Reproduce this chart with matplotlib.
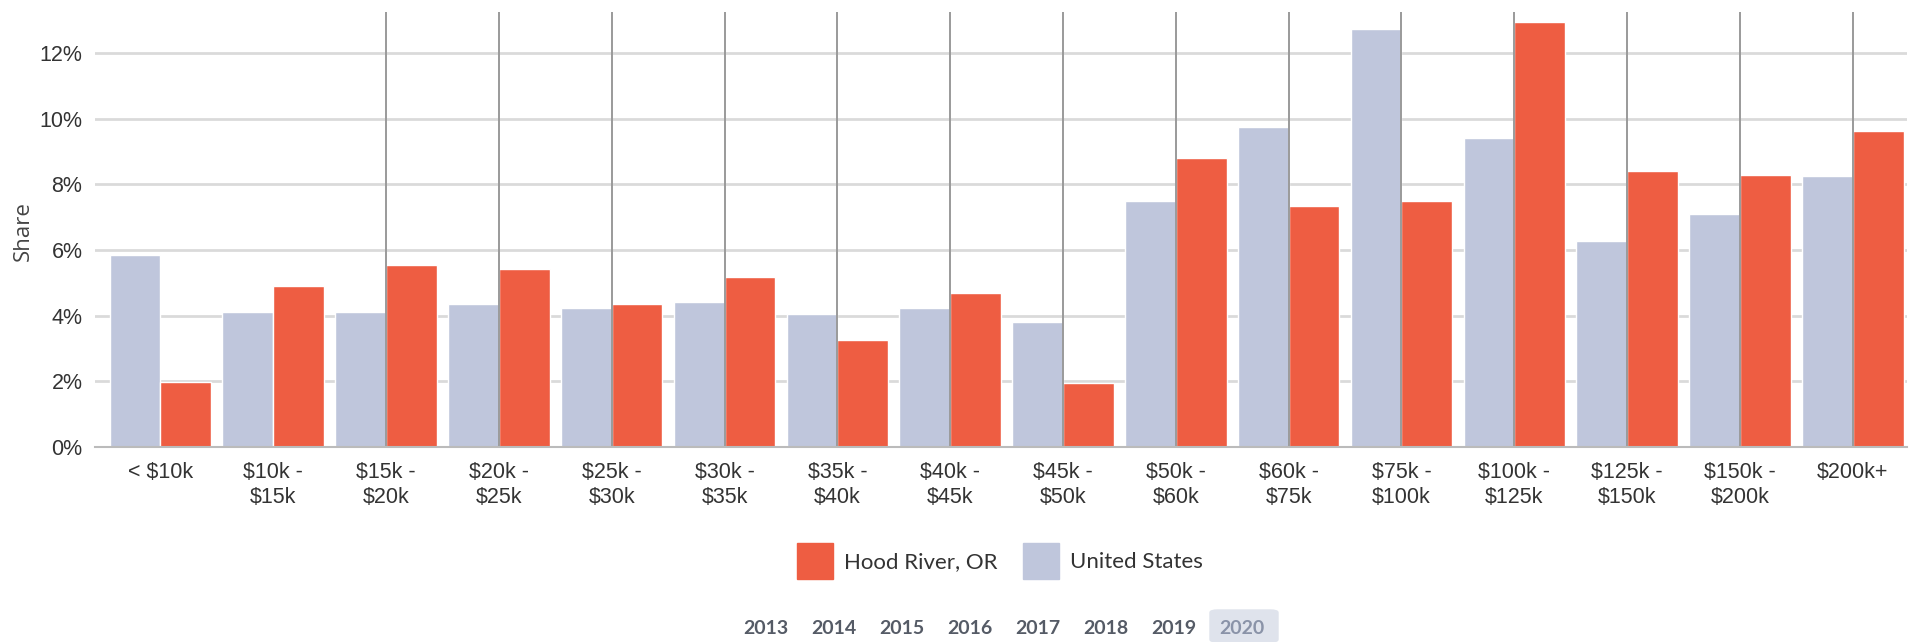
import numpy as np
import matplotlib
matplotlib.use("Agg")
from matplotlib import pyplot as plt
from matplotlib.patches import Rectangle, FancyBboxPatch

categories = ['< $10k', '$10k -\n$15k', '$15k -\n$20k', '$20k -\n$25k', '$25k -\n$30k',
              '$30k -\n$35k', '$35k -\n$40k', '$40k -\n$45k', '$45k -\n$50k', '$50k -\n$60k',
              '$60k -\n$75k', '$75k -\n$100k', '$100k -\n$125k', '$125k -\n$150k',
              '$150k -\n$200k', '$200k+']
us_share = [5.84, 4.11, 4.12, 4.37, 4.24, 4.42, 4.04, 4.22, 3.80, 7.48,
            9.75, 12.74, 9.40, 6.27, 7.10, 8.26]
hood_share = [1.99, 4.91, 5.54, 5.41, 4.37, 5.19, 3.26, 4.68, 1.96, 8.81,
              7.33, 7.48, 12.95, 8.42, 8.28, 9.62]
yticks = [0, 2, 4, 6, 8, 10, 12]
years = ['2013', '2014', '2015', '2016', '2017', '2018', '2019', '2020']

red = '#ee5d42'
blue = '#bfc6dc'
W, H = 1910, 642

fig = plt.figure(figsize=(19.1, 6.42), dpi=100)
ax = fig.add_axes([0.0497, 0.3037, 0.9487, 0.6776])

x = np.arange(len(categories))
w = 0.45
ax.bar(x - w / 2, us_share, width=w, color=blue, edgecolor='white', linewidth=1, zorder=2)
ax.bar(x + w / 2, hood_share, width=w, color=red, edgecolor='white', linewidth=1, zorder=2)

# vertical marker lines at the category centres (not on the first two)
for xi in x[2:]:
    ax.axvline(xi, color='#9a9a9a', linewidth=1.4, zorder=3)

ax.set_xlim(-0.58, 15.48)
ax.set_ylim(0, 13.25)
ax.set_yticks(yticks)
ax.set_yticklabels([f'{v}%' for v in yticks], fontsize=15.5, color='#333333',
                   family='Liberation Sans')
ax.set_xticks(x)
ax.set_xticklabels(categories, fontsize=15.5, color='#333333', family='Liberation Sans',
                   linespacing=1.2)
ax.tick_params(axis='both', length=0)
ax.tick_params(axis='y', pad=9)
ax.tick_params(axis='x', pad=11)
ax.grid(axis='y', color='#dadada', linewidth=2, zorder=0)
ax.set_axisbelow(True)
for s in ['top', 'right', 'left']:
    ax.spines[s].set_visible(False)
ax.spines['bottom'].set_color('#bbbbbb')
ax.spines['bottom'].set_linewidth(1.5)
ax.spines['bottom'].set_zorder(4)

fig.text(23 / W, 1 - 231 / H, 'Share', rotation=90, ha='center', va='center',
         fontsize=16, color='#444444', family='Open Sans')

# legend
for x0, col, label in [(797, red, 'Hood River, OR'), (1023, blue, 'United States')]:
    fig.patches.append(Rectangle((x0 / W, 1 - 579 / H), 36 / W, 36 / H,
                                 transform=fig.transFigure, color=col))
    fig.text((x0 + 47) / W, 1 - 562 / H, label, ha='left', va='center',
             fontsize=16, color='#333333', family='Lato')

# year selector
for i, yr in enumerate(years):
    xc = 766 + i * 68
    if yr == '2020':
        fig.patches.append(FancyBboxPatch(((xc - 32) / W, 0), 68 / W, 32 / H,
                                          boxstyle='round,pad=0,rounding_size=0.004',
                                          transform=fig.transFigure, color='#dfe3ec'))
        col = '#8a93a8'
    else:
        col = '#555b66'
    fig.text(xc / W, 1 - 629 / H, yr, ha='center', va='center', fontsize=14,
             fontweight='bold', color=col, family='Lato')

fig.savefig('out.png', dpi=100)
